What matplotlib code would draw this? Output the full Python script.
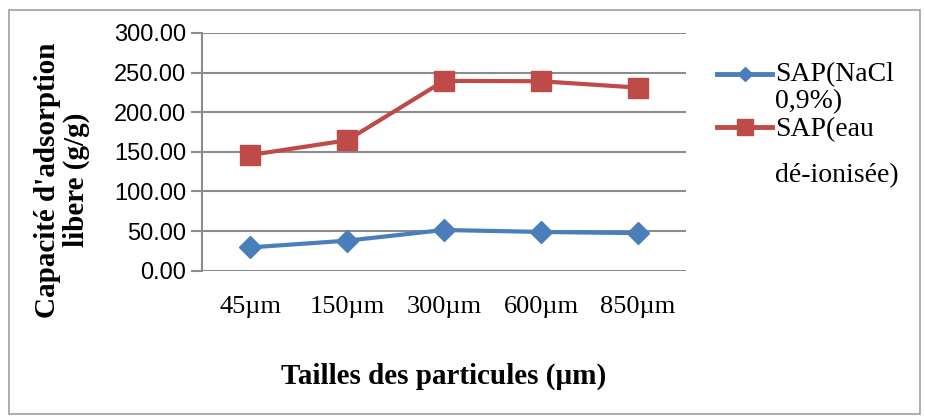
import matplotlib
matplotlib.use("Agg")
import matplotlib.pyplot as plt
from matplotlib.lines import Line2D
from matplotlib.patches import Rectangle

tailles = ["45µm", "150µm", "300µm", "600µm", "850µm"]
sap_nacl = [29.5, 38.0, 51.5, 49.0, 47.5]
sap_eau = [146.0, 164.5, 239.5, 239.0, 231.0]
yticks = [0, 50, 100, 150, 200, 250, 300]

blue = "#4A7EBB"
red = "#BE4B48"
grid = "#8C8C8C"

fig = plt.figure(figsize=(9.25, 4.16), dpi=100)
ax = fig.add_axes([0.218, 0.349, 0.524, 0.572])

x = list(range(len(tailles)))
ax.plot(x, sap_nacl, color=blue, lw=3, marker="D", ms=11.5, mec=blue, mfc=blue)
ax.plot(x, sap_eau, color=red, lw=3, marker="s", ms=14, mec=red, mfc=red)

ax.set_xlim(-0.5, len(tailles) - 0.5)
ax.set_ylim(0, 300)
ax.set_yticks(yticks)
ax.set_yticklabels(["%.2f" % v for v in yticks], family="Liberation Sans", fontsize=17)
ax.set_xticks(x)
ax.set_xticklabels(tailles, family="Liberation Serif", fontsize=19)
for t in yticks:
    ax.axhline(t, color=grid, lw=1.5, zorder=0)
for s in ["top", "right", "bottom"]:
    ax.spines[s].set_visible(False)
ax.spines["left"].set_color(grid)
ax.spines["left"].set_linewidth(1.5)
ax.tick_params(axis="y", length=8, color=grid, width=1.5, pad=3)
ax.tick_params(axis="x", length=0, pad=18)

ax.set_xlabel("Tailles des particules (µm)", family="Liberation Serif",
              fontweight="bold", fontsize=21, labelpad=32)
fig.text(0.067, 0.567, "Capacité d'adsorption\nlibere (g/g)", rotation=90,
         family="Liberation Serif", fontweight="bold", fontsize=21,
         ha="center", va="center", linespacing=1.1)

# legend drawn by hand
fig.add_artist(Line2D([0.775, 0.835], [0.822, 0.822], color=blue, lw=3.5,
                      transform=fig.transFigure))
fig.add_artist(Line2D([0.805], [0.822], color=blue, marker="D", ms=7,
                      transform=fig.transFigure))
fig.add_artist(Line2D([0.775, 0.835], [0.695, 0.695], color=red, lw=3.5,
                      transform=fig.transFigure))
fig.add_artist(Line2D([0.805], [0.695], color=red, marker="s", ms=11,
                      transform=fig.transFigure))
leg_font = dict(family="Liberation Serif", fontsize=20, va="center", ha="left")
fig.text(0.838, 0.820, "SAP(NaCl", **leg_font)
fig.text(0.838, 0.756, "0,9%)", **leg_font)
fig.text(0.838, 0.6875, "SAP(eau", **leg_font)
fig.text(0.838, 0.579, "dé-ionisée)", **leg_font)

fig.add_artist(Rectangle((0.01, 0.005), 0.985, 0.97, fill=False,
                         edgecolor="#A0A0A0", lw=1.2, transform=fig.transFigure))

fig.savefig("out.png", dpi=100)
